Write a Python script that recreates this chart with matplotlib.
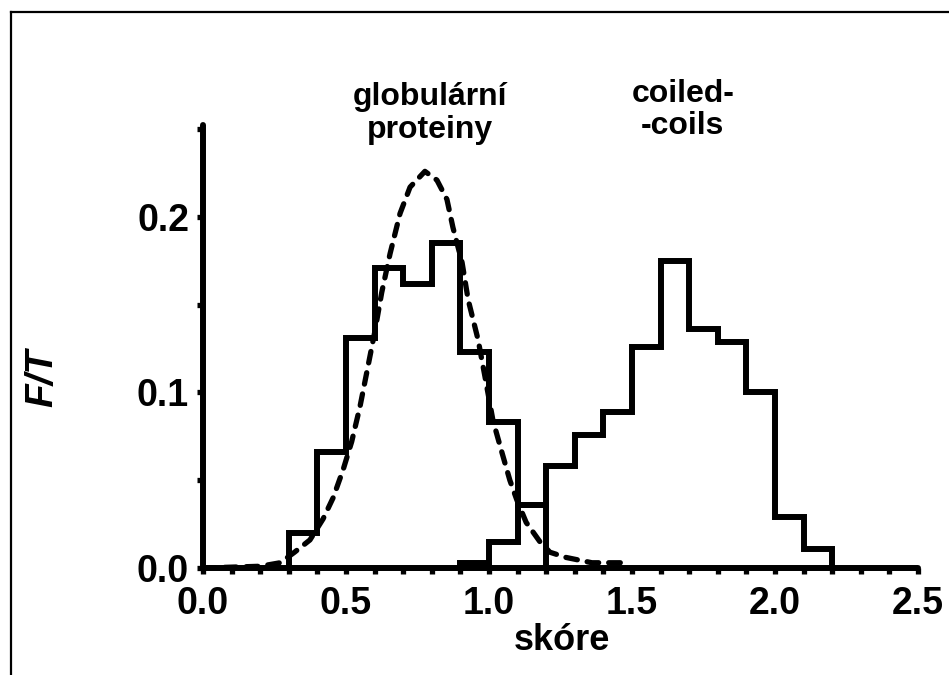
import numpy as np
import matplotlib
matplotlib.use("Agg")
import matplotlib.pyplot as plt
from matplotlib.lines import Line2D
from matplotlib.ticker import MultipleLocator, FixedLocator

plt.rcParams['font.family'] = ['Liberation Sans', 'DejaVu Sans']

# histogram of globular proteins (bin width 0.1)
glob_edges = [0.3, 0.4, 0.5, 0.6, 0.7, 0.8, 0.9, 1.0, 1.1, 1.2]
glob_heights = [0.020, 0.066, 0.131, 0.171, 0.162, 0.185, 0.123, 0.083, 0.036]

# histogram of coiled-coils
coil_edges = [0.9, 1.0, 1.1, 1.2, 1.3, 1.4, 1.5, 1.6, 1.7, 1.8, 1.9, 2.0, 2.1, 2.2]
coil_heights = [0.003, 0.015, 0.036, 0.058, 0.076, 0.089, 0.126, 0.175,
                0.136, 0.129, 0.100, 0.029, 0.011]

# fitted curve for the globular set (dashed)
curve_x = [0.0, 0.10, 0.20, 0.27, 0.32, 0.374, 0.42, 0.455, 0.49, 0.52, 0.549,
           0.577, 0.60, 0.625, 0.654, 0.689, 0.724, 0.776, 0.818, 0.853, 0.874,
           0.906, 0.927, 0.962, 0.986, 1.014, 1.045, 1.073, 1.097, 1.13, 1.178,
           1.213, 1.27, 1.36, 1.49]
curve_y = [0.0, 0.0005, 0.001, 0.003, 0.009, 0.016, 0.028, 0.040, 0.056, 0.072,
           0.092, 0.115, 0.134, 0.157, 0.179, 0.202, 0.217, 0.226, 0.221, 0.210,
           0.194, 0.174, 0.153, 0.130, 0.109, 0.084, 0.066, 0.050, 0.039, 0.026,
           0.015, 0.009, 0.006, 0.003, 0.003]

x_ticks = [0.0, 0.5, 1.0, 1.5, 2.0, 2.5]
x_ticklabels = ["0.0", "0.5", "1.0", "1.5", "2.0", "2.5"]
y_ticks = [0.0, 0.1, 0.2]
y_ticklabels = ["0.0", "0.1", "0.2"]

fig = plt.figure(figsize=(9.49, 6.75), dpi=100)
ax = fig.add_axes([0.2139, 0.1585, 0.7534, 0.6563])

ax.stairs(glob_heights, glob_edges, color="black", lw=4.3, baseline=0, zorder=3)
ax.stairs(coil_heights, coil_edges, color="black", lw=4.3, baseline=0, zorder=3)
ax.plot(curve_x, curve_y, color="black", lw=3.8, dashes=(2.2, 1.9),
        dash_capstyle="round", zorder=4)

ax.set_xlim(0, 2.5)
ax.set_ylim(0, 0.2524)

for side in ["top", "right"]:
    ax.spines[side].set_visible(False)
for side in ["left", "bottom"]:
    ax.spines[side].set_linewidth(4.3)
    ax.spines[side].set_capstyle("round")

ax.xaxis.set_major_locator(FixedLocator(x_ticks))
ax.xaxis.set_minor_locator(MultipleLocator(0.1))
ax.yaxis.set_major_locator(FixedLocator(y_ticks))
ax.yaxis.set_minor_locator(MultipleLocator(0.05))
ax.set_xticklabels(x_ticklabels)
ax.set_yticklabels(y_ticklabels)

ax.tick_params(axis="both", which="both", direction="out", width=3.8,
               length=4, color="black")
ax.tick_params(axis="x", which="major", pad=9)
ax.tick_params(axis="y", which="major", pad=6)
for lbl in ax.get_xticklabels() + ax.get_yticklabels():
    lbl.set_fontsize(27)
    lbl.set_fontweight("heavy")

# group labels above the peaks
ax.text(0.794, 0.259, "globulární\nproteiny", ha="center", va="center",
        fontsize=23, fontweight="bold", linespacing=1.12, clip_on=False)
ax.text(1.678, 0.261, "coiled-\n-coils", ha="center", va="center",
        fontsize=23, fontweight="bold", linespacing=1.12, clip_on=False)

fig.text(42 / 949, 1 - 378 / 675, "F/T", rotation=90, ha="center", va="center",
         fontsize=28, fontweight="bold", fontstyle="italic")
fig.text(562 / 949, 1 - 640 / 675, "skóre", ha="center", va="center",
         fontsize=26, fontweight="bold")

# outer frame (left and top edges)
fig.add_artist(Line2D([10.5 / 949, 10.5 / 949], [0, 1 - 12 / 675],
                      transform=fig.transFigure, color="black", lw=1.6))
fig.add_artist(Line2D([10.5 / 949, 1], [1 - 12 / 675, 1 - 12 / 675],
                      transform=fig.transFigure, color="black", lw=1.6))

fig.savefig("out.png", dpi=100, facecolor="white")
